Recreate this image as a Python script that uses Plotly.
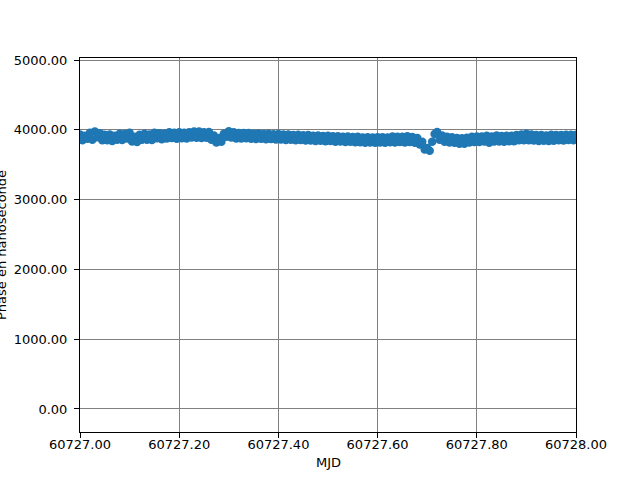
import plotly.graph_objects as go

# Sampling instants (MJD) and phase values (ns)
mjd_start = 60727.0
mjd_step = 0.005
mjd = [round(mjd_start + mjd_step * i, 3) for i in range(201)]

phase_ns = [
    3935, 3852, 3915, 3872, 3960, 3860, 3978, 3895, 3950, 3850,
    3930, 3850, 3935, 3842, 3915, 3860, 3945, 3855, 3942, 3875,
    3960, 3835, 3900, 3825, 3930, 3860, 3943, 3860, 3935, 3855,
    3958, 3880, 3950, 3867, 3943, 3875, 3965, 3882, 3958, 3874,
    3965, 3881, 3957, 3878, 3965, 3891, 3977, 3888, 3975, 3883,
    3965, 3887, 3970, 3860, 3920, 3820, 3885, 3830, 3945, 3900,
    3980, 3890, 3965, 3877, 3955, 3878, 3956, 3880, 3954, 3872,
    3945, 3869, 3948, 3872, 3941, 3865, 3944, 3868, 3937, 3861,
    3940, 3863, 3932, 3856, 3935, 3859, 3927, 3851, 3930, 3854,
    3922, 3846, 3925, 3849, 3917, 3841, 3920, 3844, 3912, 3836,
    3915, 3839, 3907, 3831, 3910, 3834, 3902, 3826, 3905, 3829,
    3897, 3821, 3900, 3824, 3892, 3816, 3895, 3820, 3890, 3815,
    3895, 3820, 3895, 3815, 3891, 3823, 3905, 3820, 3902, 3827,
    3900, 3820, 3907, 3825, 3898, 3815, 3885, 3790, 3830, 3720,
    3740, 3700, 3830, 3940, 3970, 3860, 3920, 3830, 3900, 3820,
    3895, 3815, 3885, 3800, 3880, 3802, 3888, 3820, 3900, 3827,
    3904, 3825, 3906, 3833, 3915, 3815, 3905, 3835, 3920, 3835,
    3913, 3830, 3915, 3837, 3915, 3838, 3925, 3850, 3935, 3853,
    3945, 3853, 3935, 3847, 3925, 3842, 3925, 3845, 3920, 3842,
    3929, 3845, 3926, 3852, 3928, 3849, 3930, 3855, 3930, 3850,
    3930,
]

x_ticks = [60727.0, 60727.2, 60727.4, 60727.6, 60727.8, 60728.0]
y_ticks = [0, 1000, 2000, 3000, 4000, 5000]

fig = go.Figure()
fig.add_trace(go.Scatter(
    x=mjd, y=phase_ns, mode="markers",
    marker=dict(color="#1f77b4", size=8.5, line=dict(width=0)),
    showlegend=False,
))

font = dict(family="DejaVu Sans", size=13, color="black")
axis_common = dict(
    showline=True, linecolor="black", linewidth=1, mirror=True,
    ticks="outside", ticklen=5, tickwidth=1, tickcolor="black",
    showgrid=True, gridcolor="#808080", gridwidth=1.2,
    zeroline=False, tickfont=font,
)

fig.update_layout(
    width=640, height=480,
    margin=dict(l=80, r=64, t=58, b=48),
    paper_bgcolor="white", plot_bgcolor="white",
    font=font,
    xaxis=dict(range=[60727.0, 60728.0], tickvals=x_ticks,
               ticktext=[f"{v:.2f}" for v in x_ticks],
               ticklabelstandoff=-5, **axis_common),
    yaxis=dict(range=[-330, 5030], tickvals=y_ticks,
               ticktext=[f"{v:.2f}" for v in y_ticks],
               ticklabelstandoff=4, **axis_common),
    annotations=[
        dict(text="MJD", xref="paper", yref="paper", x=0.5, y=0,
             xanchor="center", yanchor="middle", yshift=-30,
             showarrow=False, font=font),
        dict(text="Phase en nanoseconde", xref="paper", yref="paper",
             x=0, y=0.5, xanchor="center", yanchor="middle", xshift=-79,
             textangle=-90, showarrow=False, font=font),
    ],
)

fig.write_html(
    "out.html",
    config={"displayModeBar": False},
    post_script="document.body.style.margin='0';document.body.style.overflow='hidden';",
)
